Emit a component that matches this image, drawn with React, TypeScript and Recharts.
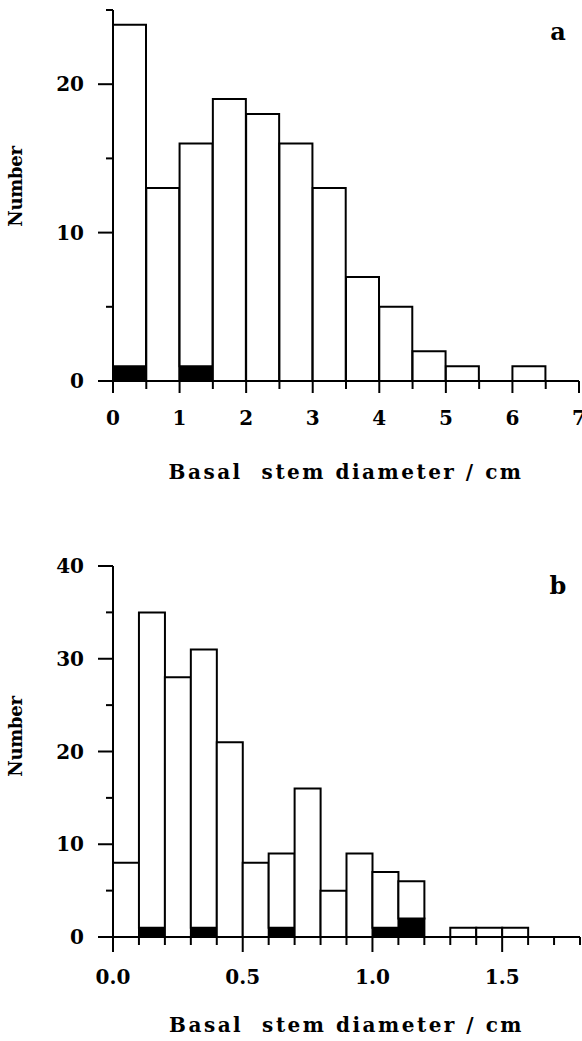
import React from "react";
import { BarChart, Bar, XAxis, YAxis } from "recharts";

// panel a: bins of 0.5 cm
const binWidthA = 0.5;
const binStartsA = [0, 0.5, 1, 1.5, 2, 2.5, 3, 3.5, 4, 4.5, 5, 5.5, 6, 6.5];
const totalA = [24, 13, 16, 19, 18, 16, 13, 7, 5, 2, 1, 0, 1, 0];
const deadA = [1, 0, 1, 0, 0, 0, 0, 0, 0, 0, 0, 0, 0, 0];
const xTicksA = [0, 0.5, 1, 1.5, 2, 2.5, 3, 3.5, 4, 4.5, 5, 5.5, 6, 6.5, 7];
const xLabelsA = ["0", "1", "2", "3", "4", "5", "6", "7"];
const yTicksA = [0, 5, 10, 15, 20, 25];
const yLabelsA = [0, 10, 20];

// panel b: bins of 0.1 cm
const binWidthB = 0.1;
const binStartsB = [0, 0.1, 0.2, 0.3, 0.4, 0.5, 0.6, 0.7, 0.8, 0.9, 1.0, 1.1, 1.2, 1.3, 1.4, 1.5, 1.6, 1.7];
const totalB = [8, 35, 28, 31, 21, 8, 9, 16, 5, 9, 7, 6, 0, 1, 1, 1, 0, 0];
const deadB = [0, 1, 0, 1, 0, 0, 1, 0, 0, 0, 1, 2, 0, 0, 0, 0, 0, 0];
const xTicksB = [0, 0.1, 0.2, 0.3, 0.4, 0.5, 0.6, 0.7, 0.8, 0.9, 1.0, 1.1, 1.2, 1.3, 1.4, 1.5, 1.6, 1.7, 1.8];
const xLabelsB = ["0.0", "0.5", "1.0", "1.5"];
const yTicksB = [0, 5, 10, 15, 20, 25, 30, 35, 40];
const yLabelsB = [0, 10, 20, 30, 40];

const FONT = "'DejaVu Serif', serif";
const INK = "#000";

function buildRows(starts: number[], width: number, total: number[], dead: number[]) {
  return starts.map((s, i) => ({
    mid: Math.round((s + width / 2) * 1000) / 1000,
    dead: dead[i],
    live: total[i] - dead[i],
  }));
}

function makeXTick(labels: string[], longLen: number, shortLen: number, labelDy: number, decimals: number) {
  return (props: any) => {
    const { x, y, payload } = props;
    const v = Number(payload.value);
    const txt = decimals === 0 ? String(v) : v.toFixed(decimals);
    const major = labels.includes(txt);
    return (
      <g>
        <line x1={x} x2={x} y1={y} y2={y + (major ? longLen : shortLen)} stroke={INK} strokeWidth={2} />
        {major && (
          <text x={x} y={y + labelDy} textAnchor="middle" fontFamily={FONT} fontWeight="bold" fontSize={20} fill={INK}>
            {txt}
          </text>
        )}
      </g>
    );
  };
}

function makeYTick(labels: number[]) {
  return (props: any) => {
    const { x, y, payload } = props;
    const major = labels.includes(payload.value);
    return (
      <g>
        <line x1={x - (major ? 15 : 7)} x2={x} y1={y} y2={y} stroke={INK} strokeWidth={2} />
        {major && (
          <text x={x - 29} y={y + 7} textAnchor="end" fontFamily={FONT} fontWeight="bold" fontSize={20} fill={INK}>
            {payload.value}
          </text>
        )}
      </g>
    );
  };
}

function Panel(props: {
  rows: any[];
  height: number;
  marginTop: number;
  marginRight: number;
  xAxisHeight: number;
  xMax: number;
  xTicks: number[];
  xLabels: string[];
  decimals: number;
  longTick: number;
  labelDy: number;
  titleDy: number;
  yMax: number;
  yTicks: number[];
  yLabels: number[];
  nameShift: number;
  letter: string;
  letterY: number;
}) {
  const p = props;
  return (
    <BarChart
      width={582}
      height={p.height}
      data={p.rows}
      margin={{ top: p.marginTop, right: p.marginRight, bottom: 0, left: 0 }}
      barCategoryGap={0}
      barGap={0}
    >
      <XAxis
        dataKey="mid"
        type="number"
        domain={[0, p.xMax]}
        allowDataOverflow
        ticks={p.xTicks}
        interval={0}
        height={p.xAxisHeight}
        tickSize={0}
        tickMargin={0}
        tickLine={false}
        axisLine={{ stroke: INK, strokeWidth: 2 }}
        tick={makeXTick(p.xLabels, p.longTick, 8, p.labelDy, p.decimals)}
        label={{
          content: ({ viewBox }: any) => (
            <text
              x={viewBox.x + viewBox.width / 2}
              y={viewBox.y + p.titleDy}
              textAnchor="middle"
              fontFamily={FONT}
              fontWeight="bold"
              fontSize={20}
              letterSpacing={2.5}
              fill={INK}
              style={{ whiteSpace: "pre" }}
            >
              {"Basal  stem diameter / cm"}
            </text>
          ),
        }}
      />
      <YAxis
        type="number"
        domain={[0, p.yMax]}
        ticks={p.yTicks}
        interval={0}
        width={113}
        tickSize={0}
        tickMargin={0}
        tickLine={false}
        axisLine={{ stroke: INK, strokeWidth: 2 }}
        tick={makeYTick(p.yLabels)}
        label={{
          content: ({ viewBox }: any) => {
            const cx = 15;
            const cy = viewBox.y + viewBox.height / 2 - p.nameShift;
            return (
              <text
                x={cx}
                y={cy}
                transform={`rotate(-90 ${cx} ${cy})`}
                textAnchor="middle"
                dominantBaseline="central"
                fontFamily={FONT}
                fontWeight="bold"
                fontSize={18}
                letterSpacing={-0.3}
                fill={INK}
              >
                Number
              </text>
            );
          },
        }}
      />
      <Bar dataKey="dead" stackId="s" fill={INK} stroke={INK} strokeWidth={2} isAnimationActive={false} />
      <Bar dataKey="live" stackId="s" fill="#fff" stroke={INK} strokeWidth={2} isAnimationActive={false} />
      <text x={558} y={p.letterY} textAnchor="middle" fontFamily={FONT} fontWeight="bold" fontSize={24} fill={INK}>
        {p.letter}
      </text>
    </BarChart>
  );
}

export default function App() {
  const rowsA = buildRows(binStartsA, binWidthA, totalA, deadA);
  const rowsB = buildRows(binStartsB, binWidthB, totalB, deadB);
  return (
    <div style={{ position: "absolute", left: 0, top: 0, width: 582, height: 1041, background: "#fff" }}>
      <div style={{ position: "absolute", left: 0, top: 0 }}>
        <Panel
          rows={rowsA}
          height={500}
          marginTop={10}
          marginRight={3}
          xAxisHeight={119}
          xMax={7}
          xTicks={xTicksA}
          xLabels={xLabelsA}
          decimals={0}
          longTick={12}
          labelDy={44}
          titleDy={98}
          yMax={25}
          yTicks={yTicksA}
          yLabels={yLabelsA}
          nameShift={9}
          letter="a"
          letterY={40}
        />
      </div>
      <div style={{ position: "absolute", left: 0, top: 520 }}>
        <Panel
          rows={rowsB}
          height={521}
          marginTop={46}
          marginRight={2}
          xAxisHeight={104}
          xMax={1.8}
          xTicks={xTicksB}
          xLabels={xLabelsB}
          decimals={1}
          longTick={15}
          labelDy={47}
          titleDy={95}
          yMax={40}
          yTicks={yTicksB}
          yLabels={yLabelsB}
          nameShift={15}
          letter="b"
          letterY={74}
        />
      </div>
    </div>
  );
}
